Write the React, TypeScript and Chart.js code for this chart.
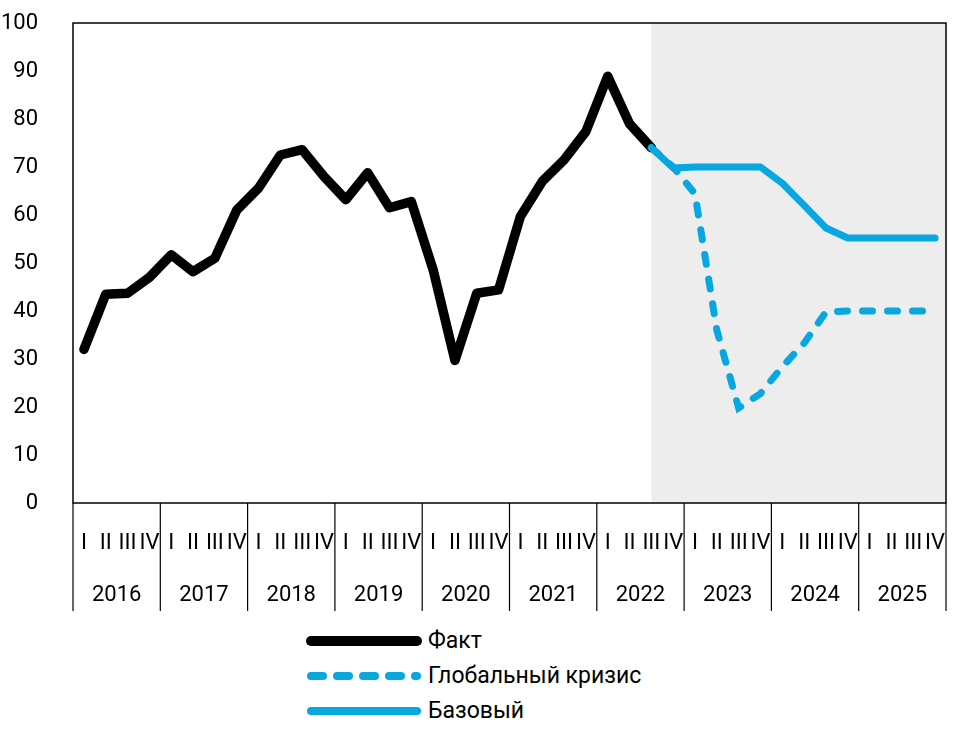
import React, { useEffect, useRef } from "react";
import { Chart, registerables } from "chart.js";

Chart.register(...registerables);

const years = ["2016", "2017", "2018", "2019", "2020", "2021", "2022", "2023", "2024", "2025"];
const quarters = ["I", "II", "III", "IV"];

// Факт: 2016 Q1 .. 2022 Q3
const fact = [32, 43.5, 43.7, 47, 51.7, 48.2, 51, 61, 65.6, 72.5, 73.6, 68, 63.2, 68.8, 61.5, 62.8, 48.6, 29.7, 43.7, 44.4, 59.7, 67, 71.5, 77.4, 88.9, 79, 74];
// Forecasts: 2022 Q3 .. 2025 Q4
const crisis = [74, 70, 64.4, 36, 19.8, 22.8, 28.4, 33.3, 39.8, 40, 40, 40, 40, 40];
const base = [74, 69.8, 70, 70, 70, 70, 66.6, 62, 57.3, 55.2, 55.2, 55.2, 55.2, 55.2];
const forecastStart = 26;

const yTicks = [0, 10, 20, 30, 40, 50, 60, 70, 80, 90, 100];

const BLUE = "#08a7e0";
const FONT = "Roboto";

const legendItems = [
  { label: "Факт", color: "#000000", width: 10, dash: "" },
  { label: "Глобальный кризис", color: BLUE, width: 8, dash: "12 14" },
  { label: "Базовый", color: BLUE, width: 8, dash: "" },
];

export default function App() {
  const ref = useRef<HTMLCanvasElement | null>(null);

  useEffect(() => {
    document.body.style.margin = "0";
    const labels: string[] = [];
    years.forEach(() => quarters.forEach((q) => labels.push(q)));
    const factData = labels.map((_, i) => (i < fact.length ? fact[i] : null));
    const crisisData = labels.map((_, i) => (i >= forecastStart ? crisis[i - forecastStart] : null));
    const baseData = labels.map((_, i) => (i >= forecastStart ? base[i - forecastStart] : null));

    const decor = {
      id: "decor",
      beforeDatasetsDraw(chart: any) {
        const { ctx, chartArea } = chart;
        const xs = chart.scales.x;
        const x0 = xs.getPixelForValue(forecastStart);
        ctx.save();
        ctx.fillStyle = "#ededed";
        ctx.fillRect(x0, chartArea.top, chartArea.right - x0, chartArea.bottom - chartArea.top);
        ctx.restore();
      },
      afterDraw(chart: any) {
        const { ctx, chartArea } = chart;
        const xs = chart.scales.x;
        ctx.save();
        ctx.strokeStyle = "#000";
        ctx.lineWidth = 1.5;
        ctx.strokeRect(chartArea.left, chartArea.top, chartArea.right - chartArea.left, chartArea.bottom - chartArea.top);
        ctx.lineWidth = 1.2;
        for (let k = 0; k <= years.length; k++) {
          let x: number;
          if (k === 0) x = chartArea.left;
          else if (k === years.length) x = chartArea.right;
          else x = (xs.getPixelForValue(4 * k - 1) + xs.getPixelForValue(4 * k)) / 2;
          ctx.beginPath();
          ctx.moveTo(x, chartArea.bottom);
          ctx.lineTo(x, chartArea.bottom + 108);
          ctx.stroke();
        }
        ctx.restore();
      },
    };

    const chart = new Chart(ref.current as HTMLCanvasElement, {
      type: "line",
      data: {
        labels,
        datasets: [
          {
            label: "Факт",
            data: factData,
            borderColor: "#000",
            borderWidth: 9.5,
            pointRadius: 0,
            borderJoinStyle: "round",
            borderCapStyle: "round",
            order: 3,
          },
          {
            label: "Глобальный кризис",
            data: crisisData,
            borderColor: BLUE,
            borderWidth: 7,
            borderDash: [10, 15],
            borderCapStyle: "round",
            pointRadius: 0,
            order: 2,
          },
          {
            label: "Базовый",
            data: baseData,
            borderColor: BLUE,
            borderWidth: 7,
            borderCapStyle: "round",
            borderJoinStyle: "round",
            pointRadius: 0,
            order: 1,
          },
        ] as any,
      },
      options: {
        animation: false,
        responsive: false,
        devicePixelRatio: 1,
        layout: { padding: { left: 0, right: 26, top: 23, bottom: 0 } },
        plugins: { legend: { display: false }, tooltip: { enabled: false } },
        scales: {
          x: {
            type: "category",
            position: "bottom",
            weight: 0,
            offset: true,
            grid: { display: false },
            border: { display: false },
            afterFit(scale: any) {
              scale.height = 52;
            },
            ticks: {
              autoSkip: false,
              maxRotation: 0,
              minRotation: 0,
              padding: 19,
              color: "#000",
              font: { family: FONT, size: 22 },
            },
          },
          x2: {
            type: "category",
            position: "bottom",
            weight: 1,
            labels: years,
            offset: true,
            grid: { display: false },
            border: { display: false },
            afterFit(scale: any) {
              scale.height = 60;
            },
            ticks: {
              autoSkip: false,
              maxRotation: 0,
              padding: 19,
              color: "#000",
              font: { family: FONT, size: 22 },
            },
          },
          y: {
            min: 0,
            max: 100,
            afterBuildTicks(scale: any) {
              scale.ticks = yTicks.map((v) => ({ value: v }));
            },
            afterFit(scale: any) {
              scale.width = 73;
              scale.paddingTop = 0;
              scale.paddingBottom = 0;
            },
            grid: { display: false },
            border: { display: false },
            ticks: {
              padding: 27,
              color: "#000",
              font: { family: FONT, size: 22 },
            },
          },
        } as any,
      },
      plugins: [decor],
    });
    return () => chart.destroy();
  }, []);

  return (
    <div style={{ position: "relative", width: 972, height: 735, background: "#fff", fontFamily: FONT }}>
      <canvas ref={ref} width={972} height={615} style={{ display: "block" }} />
      <div style={{ position: "absolute", left: 303, top: 623 }}>
        {legendItems.map((it) => (
          <div key={it.label} style={{ display: "flex", alignItems: "center", height: 35 }}>
            <svg width={122} height={20} style={{ display: "block" }}>
              <line
                x1={8}
                y1={10}
                x2={114}
                y2={10}
                stroke={it.color}
                strokeWidth={it.width}
                strokeLinecap="round"
                strokeDasharray={it.dash || undefined}
              />
            </svg>
            <span style={{ fontSize: 23, color: "#000", marginLeft: 3, lineHeight: "35px" }}>{it.label}</span>
          </div>
        ))}
      </div>
    </div>
  );
}
